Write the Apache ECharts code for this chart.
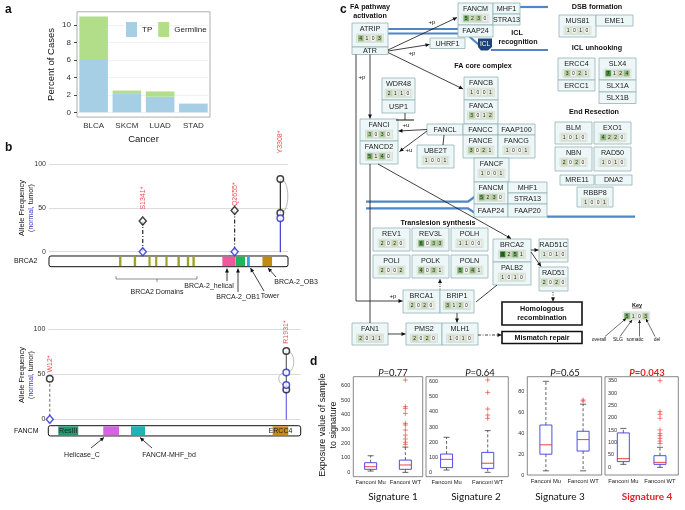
<!DOCTYPE html>
<html><head><meta charset="utf-8">
<script src="https://cdn.jsdelivr.net/npm/echarts@6/dist/echarts.min.js"></script>
<style>html,body{margin:0;padding:0;background:#fff}#c{width:685px;height:510px}</style>
</head><body><div id="c"></div>
<script>
// ================= DATA =================
const cancers = ['BLCA', 'SKCM', 'LUAD', 'STAD'];
const tpPercent = [6.0, 2.2, 1.8, 1.0];
const germlinePercent = [5.0, 0.3, 0.6, 0.0];
const percentTicks = [0, 2, 4, 6, 8, 10];

const brca2Length = 3418;
const brca2Labels = ['S1341*', 'Q2655*', 'Y3308*'];
const brca2LabelPos = [1341, 2655, 3308];
const brca2Tumor = [[1341, 35], [2655, 47], [3308, 83], [3308, 44]];
const brca2Normal = [[1341, 0], [2655, 0], [3308, 38]];
const brca2Domains = [[1002, 1036], [1212, 1246], [1422, 1453], [1518, 1549], [1665, 1696], [1837, 1871], [1971, 2005], [2051, 2085], [2479, 2667], [2670, 2803], [2831, 2872], [3052, 3190]];
const brca2DomainNames = ['BRCA2', 'BRCA2', 'BRCA2', 'BRCA2', 'BRCA2', 'BRCA2', 'BRCA2', 'BRCA2', 'BRCA-2_helical', 'BRCA-2_OB1', 'Tower', 'BRCA-2_OB3'];

const fancmLength = 2048;
const fancmLabels = ['W12*', 'R1931*'];
const fancmLabelPos = [12, 1931];
const fancmTumor = [[12, 45], [1931, 76], [1931, 33]];
const fancmNormal = [[12, 0], [1931, 52], [1931, 38]];
const fancmDomains = [[81, 243], [446, 574], [671, 785], [1821, 1947]];
const fancmDomainNames = ['ResIII', 'Helicase_C', 'FANCM-MHF_bd', 'ERCC4'];
const afTicks = [0, 50, 100];

// gene, overall, SLG, somatic, del
const geneCounts = [
  ['ATRIP', 4, 1, 0, 3], ['FANCM', 5, 2, 3, 0], ['WDR48', 2, 1, 1, 0], ['FANCB', 1, 0, 0, 1],
  ['FANCA', 3, 0, 1, 2], ['FANCI', 3, 0, 3, 0], ['FANCD2', 5, 1, 4, 0], ['FANCE', 3, 0, 2, 1],
  ['FANCG', 1, 0, 0, 1], ['UBE2T', 1, 0, 0, 1], ['FANCF', 1, 0, 0, 1], ['MUS81', 1, 0, 1, 0],
  ['ERCC4', 3, 0, 2, 1], ['SLX4', 7, 1, 2, 4], ['BLM', 1, 0, 1, 0], ['EXO1', 4, 2, 2, 0],
  ['NBN', 2, 0, 2, 0], ['RAD50', 1, 0, 1, 0], ['RBBP8', 1, 0, 0, 1], ['REV1', 2, 0, 2, 0],
  ['REV3L', 6, 0, 3, 3], ['POLH', 1, 1, 0, 0], ['POLI', 2, 0, 0, 2], ['POLK', 4, 0, 3, 1],
  ['POLN', 5, 0, 4, 1], ['BRCA2', 8, 2, 5, 1], ['PALB2', 1, 0, 1, 0], ['RAD51C', 1, 0, 1, 0],
  ['RAD51', 2, 0, 2, 0], ['BRCA1', 2, 0, 2, 0], ['BRIP1', 3, 1, 2, 0], ['FAN1', 2, 0, 1, 1],
  ['PMS2', 2, 0, 2, 0], ['MLH1', 1, 0, 1, 0]
];
const keyCounts = [5, 1, 0, 3];

const pValues = ['0.77', '0.64', '0.65', '0.043'];
const signatures = ['Signature 1', 'Signature 2', 'Signature 3', 'Signature 4'];
const groups = ['Fanconi Mu', 'Fanconi WT'];
// [lower whisker, Q1, median, Q3, upper whisker]
const sig1Mu = [9, 21, 39, 67, 115];
const sig1WT = [0, 21, 51, 85, 175];
const sig1WTOut = [194, 208, 231, 258, 293, 328, 339, 408, 443, 455, 639];
const sig2Mu = [15, 31, 86, 121, 232];
const sig2WT = [0, 26, 60, 132, 276];
const sig2WTOut = [357, 379, 419, 529, 611];
const sig3Mu = [4, 20, 29, 48, 90];
const sig3WT = [4, 23, 34, 42, 68];
const sig3WTOut = [71, 72];
const sig4Mu = [12, 23, 35, 139, 157];
const sig4WT = [0, 12, 20, 47, 81];
const sig4WTOut = [96, 106, 117, 128, 137, 151, 198, 214, 225, 350];

// ================= STYLE / LAYOUT =================
const FONT = "'Liberation Sans', Arial, Helvetica, sans-serif";
const G = [];
function txt(x, y, text, o) {
  o = o || {};
  const font = (o.italic ? 'italic ' : '') + (o.bold ? 'bold ' : '') + (o.size || 7) + 'px ' + (o.family || FONT);
  G.push({type: 'text', x: x, y: y, rotation: o.rot || 0, silent: true, z: o.z || 20,
    style: {text: text, font: font, fill: o.color || '#111', align: o.align || 'center', textAlign: o.align || 'center',
      verticalAlign: o.valign || 'middle', textVerticalAlign: o.valign || 'middle', rich: o.rich}});
}
function ln(x1, y1, x2, y2, o) {
  o = o || {};
  G.push({type: 'line', silent: true, z: o.z || 15, shape: {x1: x1, y1: y1, x2: x2, y2: y2},
    style: {stroke: o.color || '#111', lineWidth: o.w || 0.8, lineDash: o.dash || null}});
}
function head(x1, y1, x2, y2, o) {
  o = o || {};
  const a = Math.atan2(y2 - y1, x2 - x1), s = o.size || 4, hw = o.hw || 2;
  const bx = x2 - s * Math.cos(a), by = y2 - s * Math.sin(a);
  G.push({type: 'polygon', silent: true, z: o.z || 16,
    shape: {points: [[x2, y2], [bx + hw * Math.sin(a), by - hw * Math.cos(a)], [bx - hw * Math.sin(a), by + hw * Math.cos(a)]]},
    style: {fill: o.color || '#111'}});
}
function arrow(x1, y1, x2, y2, o) { ln(x1, y1, x2, y2, o); head(x1, y1, x2, y2, o); }
function poly(points, o) {
  o = o || {};
  G.push({type: 'polyline', silent: true, z: o.z || 4, shape: {points: points},
    style: {stroke: o.color || '#4f86c6', lineWidth: o.w || 2.2, fill: null, lineDash: o.dash || null}});
}

// panel letters
txt(5, 10, 'a', {bold: true, size: 12, align: 'left'});
txt(5, 148, 'b', {bold: true, size: 12, align: 'left'});
txt(340, 10, 'c', {bold: true, size: 12, align: 'left'});
txt(310, 362, 'd', {bold: true, size: 12, align: 'left'});

// ---------- panel b annotations ----------
const afLabelRich = {b: {fill: '#2b2bd0', color: '#2b2bd0', font: '7px ' + FONT}, k: {fill: '#111', color: '#111', font: '7px ' + FONT}};
txt(22, 208, 'Allele Frequency', {rot: Math.PI / 2, size: 7.5});
txt(31, 208, '{k|(}{b|normal}{k|, tumor)}', {rot: Math.PI / 2, size: 7, rich: afLabelRich});
txt(22, 375, 'Allele Frequency', {rot: Math.PI / 2, size: 7.5});
txt(31, 375, '{k|(}{b|normal}{k|, tumor)}', {rot: Math.PI / 2, size: 7, rich: afLabelRich});
txt(14, 261, 'BRCA2', {align: 'left', size: 7});
txt(14, 431, 'FANCM', {align: 'left', size: 7});
// BRCA2 domain bracket
ln(116, 279, 197, 279, {w: 0.6, color: '#444'}); ln(116, 276, 116, 279, {w: 0.6, color: '#444'});
ln(197, 276, 197, 279, {w: 0.6, color: '#444'}); ln(157, 279, 157, 282, {w: 0.6, color: '#444'});
txt(157, 292, 'BRCA2 Domains', {size: 7, color: '#222'});
txt(209, 286, 'BRCA-2_helical', {size: 7, color: '#222'});
arrow(227, 281, 227, 268.5, {w: 0.8});
txt(238, 297, 'BRCA-2_OB1', {size: 7, color: '#222'});
arrow(238, 292, 238, 268.5, {w: 0.8});
txt(270, 296, 'Tower', {size: 7, color: '#222'});
arrow(264, 291, 250.5, 268, {w: 0.8});
txt(296, 282, 'BRCA-2_OB3', {size: 7, color: '#222'});
arrow(276, 277, 268, 268, {w: 0.8});
// FANCM annotations
txt(82, 455, 'Helicase_C', {size: 7, color: '#222'});
arrow(91, 448, 104, 437.5, {w: 0.8});
txt(169, 455, 'FANCM-MHF_bd', {size: 7, color: '#222'});
arrow(152, 448, 140, 437.5, {w: 0.8});

// ---------- panel c : pathway diagram ----------
const boxLayout = {
  'ATRIP': [352, 23, 388, 47], 'ATR': [352, 47, 388, 54.5],
  'FANCM': [458, 3, 493, 25], 'MHF1': [493, 3, 520, 14], 'STRA13': [493, 14, 520, 25], 'FAAP24': [458, 25, 493, 37],
  'UHRF1': [430, 38, 465, 48.5],
  'WDR48': [382, 78, 415, 100], 'USP1': [382, 100, 415, 113],
  'FANCB': [464, 77, 498, 100], 'FANCA': [464, 100, 498, 124],
  'FANCL': [427, 124, 463, 135], 'FANCC': [463, 124, 498, 135], 'FAAP100': [498, 124, 535, 135],
  'FANCE': [463, 135, 498, 158], 'FANCG': [498, 135, 535, 158],
  'UBE2T': [417, 145, 454, 168], 'FANCF': [474, 158, 509, 182],
  'FANCI': [360, 119, 398, 141], 'FANCD2': [360, 141, 398, 164],
  'FANCM#2': [474, 182, 508, 204], 'FAAP24#2': [474, 204, 508, 217],
  'MHF1#2': [508, 182, 547, 193], 'STRA13#2': [508, 193, 547, 204], 'FAAP20': [508, 204, 547, 217],
  'MUS81': [559, 15, 596, 37], 'EME1': [596, 15, 633, 26],
  'ERCC4': [558, 58, 595, 80], 'ERCC1': [558, 80, 595, 91],
  'SLX4': [599, 58, 636, 80], 'SLX1A': [599, 80, 636, 92], 'SLX1B': [599, 92, 636, 103.5],
  'BLM': [555, 122, 592, 144], 'EXO1': [594, 122, 631, 144], 'NBN': [555, 147, 592, 171], 'RAD50': [594, 147, 631, 171],
  'MRE11': [560, 175, 594, 185], 'DNA2': [595, 175, 632, 185], 'RBBP8': [577, 187, 613, 207],
  'REV1': [373, 228, 410, 251], 'REV3L': [412, 228, 449, 251], 'POLH': [451, 228, 488, 251],
  'POLI': [373, 255, 410, 278], 'POLK': [412, 255, 449, 278], 'POLN': [451, 255, 488, 278],
  'BRCA2': [493, 239, 531, 262], 'PALB2': [493, 262, 531, 285],
  'RAD51C': [539, 239, 568, 262], 'RAD51': [539, 267, 568, 291],
  'BRCA1': [403, 290, 440, 313], 'BRIP1': [440, 290, 474, 313],
  'FAN1': [352, 323, 388, 345], 'PMS2': [406, 323, 442, 345], 'MLH1': [442, 323, 478, 345]
};
const cellColors = ['#f6f7f3', '#e5ebdb', '#cadcb6', '#afcd98', '#93bd7d', '#77ae63', '#5b9f4c', '#3f8f38', '#2a7f28'];
const countMap = {};
geneCounts.forEach(function (r) { countMap[r[0]] = r.slice(1); });
function cells(cx, cy, vals) {
  const cw = 6.2, ch = 6.2, x0 = cx - 2 * cw;
  G.push({type: 'rect', silent: true, z: 11, shape: {x: x0 - 1, y: cy - ch / 2 - 1, width: 4 * cw + 2, height: ch + 2}, style: {fill: '#fff', stroke: '#b9c6b4', lineWidth: 0.5}});
  vals.forEach(function (v, i) {
    G.push({type: 'rect', silent: true, z: 12, shape: {x: x0 + i * cw + 0.3, y: cy - ch / 2, width: cw - 0.6, height: ch},
      style: {fill: cellColors[Math.min(v, 8)], stroke: '#aab8a2', lineWidth: 0.4}});
    txt(x0 + i * cw + cw / 2, cy + 0.3, String(v), {size: 5, color: '#222', z: 13});
  });
}
Object.keys(boxLayout).forEach(function (k) {
  const b = boxLayout[k], name = k.split('#')[0];
  G.push({type: 'rect', silent: true, z: 10, shape: {x: b[0], y: b[1], width: b[2] - b[0], height: b[3] - b[1]},
    style: {fill: '#eef7f7', stroke: '#93b3b6', lineWidth: 0.8}});
  const cx = (b[0] + b[2]) / 2;
  if (countMap[name]) {
    txt(cx, b[1] + 6, name, {size: 7.2, color: '#1a1a1a', z: 13});
    cells(cx, b[1] + 15.3, countMap[name]);
  } else {
    txt(cx, (b[1] + b[3]) / 2 + 0.3, name, {size: 7.2, color: '#1a1a1a', z: 13});
  }
});
// outcome boxes
G.push({type: 'rect', silent: true, z: 10, shape: {x: 502, y: 302, width: 80, height: 23}, style: {fill: '#fff', stroke: '#111', lineWidth: 1.6}});
txt(542, 309.5, 'Homologous', {bold: true, size: 7.2, z: 13});
txt(542, 318.5, 'recombination', {bold: true, size: 7.2, z: 13});
G.push({type: 'rect', silent: true, z: 10, shape: {x: 502, y: 331.5, width: 80, height: 12}, style: {fill: '#fff', stroke: '#111', lineWidth: 1.6}});
txt(542, 337.8, 'Mismatch repair', {bold: true, size: 7.2, z: 13});
// section titles
txt(370, 7, 'FA pathway', {bold: true, size: 7.2});
txt(370, 16, 'activation', {bold: true, size: 7.2});
txt(517, 33, 'ICL', {bold: true, size: 7.2});
txt(518, 42, 'recognition', {bold: true, size: 7.2});
txt(483, 66, 'FA core complex', {bold: true, size: 7.2});
txt(597, 7, 'DSB formation', {bold: true, size: 7.2});
txt(597, 48, 'ICL unhooking', {bold: true, size: 7.2});
txt(594, 112, 'End Resection', {bold: true, size: 7.2});
txt(438, 223.5, 'Translesion synthesis', {bold: true, size: 7.2});
// DNA strands
poly([[388, 29], [460, 29]]);
poly([[388, 33.5], [466, 33.5], [479, 45]]);
poly([[491, 50], [548, 50]]);
poly([[520, 7], [548, 7]]);
poly([[366, 201.7], [468, 201.7], [475, 196.5]]);
poly([[366, 208.3], [468, 208.3], [475, 213]]);
poly([[547, 216.7], [635, 216.7]]);
G.push({type: 'polygon', silent: true, z: 14, shape: {points: [[478, 38.5], [492, 38.5], [492, 47], [488, 50.5], [481, 50.5], [478, 47]]}, style: {fill: '#1f4278'}});
txt(485, 44.5, 'ICL', {size: 6.5, color: '#fff', z: 15});
// arrows and connectors
arrow(388, 50, 457, 17.5);
txt(432, 22, '+p', {size: 6});
arrow(388, 51, 429.5, 44.5);
txt(412, 53, '+p', {size: 6});
arrow(388, 52.5, 463, 89);
ln(356, 54.5, 356, 301); arrow(356, 301, 402.5, 301);
txt(393, 296, '+p', {size: 6});
arrow(370, 54.5, 370, 118.5);
txt(362, 77, '+p', {size: 6});
ln(405, 113, 405, 120); ln(396, 120, 414, 120, {w: 1});
txt(406, 125.5, '+u', {size: 6});
arrow(427, 129.5, 398.5, 131);
arrow(427, 131, 399.5, 151.5);
txt(409, 150, '+u', {size: 6});
ln(444, 135, 443, 145);
arrow(378, 164, 511, 238.5);
ln(370, 164, 370, 323);
arrow(531, 250, 538.5, 250);
arrow(531, 252, 541, 266.5);
arrow(553, 292, 553, 301.5, {dash: [1, 1.5]});
ln(476, 302, 497, 285);
arrow(440, 289.5, 440, 279, {dash: [1, 1.5]});
arrow(457, 313, 457, 322.5);
arrow(388, 334, 405.5, 334);
arrow(478, 335, 501.5, 335, {dash: [3, 1.5, 1, 1.5]});
// key
txt(637, 305, 'Key', {bold: true, size: 5.5});
ln(632, 308, 642, 308, {w: 0.5});
cells(636.3, 316, keyCounts);
txt(599, 340, 'overall', {size: 5});
txt(618, 340, 'SLG', {size: 5});
txt(635, 340, 'somatic', {size: 5});
txt(657, 340, 'del', {size: 5});
arrow(605, 336.5, 626, 318.5, {size: 3, hw: 1.5, w: 0.6});
arrow(620, 336.5, 632, 320, {size: 3, hw: 1.5, w: 0.6});
arrow(639.5, 336.5, 639.5, 320, {size: 3, hw: 1.5, w: 0.6});
arrow(655, 336.5, 646, 319, {size: 3, hw: 1.5, w: 0.6});

// ---------- panel d texts ----------
const pX = [393, 480, 565, 647];
const sigX = [393, 476, 560, 647];
pValues.forEach(function (p, i) {
  const red = i === 3;
  txt(pX[i], 373, '{i|P}{n|=' + p + '}', {size: 9.5, rich: {
    i: {font: 'italic ' + (red ? 'bold ' : '') + '9.5px Lato, ' + FONT, fill: red ? '#e8211c' : '#111', color: red ? '#e8211c' : '#111'},
    n: {font: (red ? 'bold ' : '') + '9.5px Lato, ' + FONT, fill: red ? '#e8211c' : '#111', color: red ? '#e8211c' : '#111'}}});
  txt(sigX[i], 497, signatures[i], {size: 10, family: 'Lato, ' + FONT, color: red ? '#e8211c' : '#111', bold: red});
});
txt(323, 425, 'Exposure value of sample', {rot: Math.PI / 2, size: 9});
txt(334, 425, 'to signature', {rot: Math.PI / 2, size: 9});

// ================= AXES / SERIES =================
const grids = [
  {left: 77, top: 11.8, width: 133, height: 105.3, show: true, borderColor: '#9b9b9b', borderWidth: 0.8},
  {left: 49, top: 164, width: 239, height: 87.7},
  {left: 48.3, top: 329.3, width: 252.4, height: 90},
  {left: 353.3, top: 376.7, width: 69.4, height: 100, show: true, borderColor: '#555', borderWidth: 0.7},
  {left: 426, top: 376.7, width: 82.3, height: 100, show: true, borderColor: '#555', borderWidth: 0.7},
  {left: 527.3, top: 376.7, width: 74.4, height: 98.3, show: true, borderColor: '#555', borderWidth: 0.7},
  {left: 605, top: 376.7, width: 73.3, height: 98.3, show: true, borderColor: '#555', borderWidth: 0.7}
];
const xAxes = [
  {type: 'category', gridIndex: 0, data: cancers, axisLine: {show: false}, axisTick: {length: 3, alignWithLabel: true, lineStyle: {color: '#444'}},
    axisLabel: {fontSize: 8, color: '#333', margin: 5, fontFamily: FONT}, name: 'Cancer', nameLocation: 'middle', nameGap: 17,
    nameTextStyle: {fontSize: 9.5, color: '#111', fontFamily: FONT}},
  {type: 'value', gridIndex: 1, min: 0, max: brca2Length, show: false},
  {type: 'value', gridIndex: 2, min: 0, max: fancmLength, show: false}
];
const yAxes = [
  {type: 'value', gridIndex: 0, min: -0.55, max: 11.55, splitNumber: 5, axisLine: {show: false},
    axisTick: {show: true, length: 3, lineStyle: {color: '#444'}, customValues: percentTicks},
    axisLabel: {fontSize: 8, color: '#333', margin: 6, fontFamily: FONT, customValues: percentTicks,
      formatter: function (v) { return percentTicks.indexOf(v) >= 0 ? String(v) : ''; }},
    splitLine: {lineStyle: {color: '#ebebeb', width: 0.7}},
    name: 'Percent of Cases', nameLocation: 'middle', nameGap: 21, nameTextStyle: {fontSize: 9.5, color: '#111', fontFamily: FONT}},
  {type: 'value', gridIndex: 1, min: 0, max: 100, interval: 50, axisLine: {show: false}, axisTick: {show: false},
    axisLabel: {fontSize: 7, color: '#333', margin: 3, fontFamily: FONT}, splitLine: {lineStyle: {color: '#d8d8d8', width: 0.9}}},
  {type: 'value', gridIndex: 2, min: 0, max: 100, interval: 50, axisLine: {show: false}, axisTick: {show: false},
    axisLabel: {fontSize: 7, color: '#333', margin: 3, fontFamily: FONT}, splitLine: {lineStyle: {color: '#d8d8d8', width: 0.9}}}
];
const boxRanges = [[-30, 662, 5, 100, false], [-29, 633, 5, 100, true], [0, 94.4, 5, 20, false], [-31, 366, 8, 50, true]];
boxRanges.forEach(function (r, i) {
  const g = 3 + i;
  xAxes.push({type: 'category', gridIndex: g, data: groups, axisLine: {show: false},
    axisTick: {inside: true, alignWithLabel: true, length: 2, lineStyle: {color: '#333', width: 0.6}},
    axisLabel: {fontSize: 5.8, color: '#222', margin: 3, interval: 0, fontFamily: FONT}});
  yAxes.push({type: 'value', gridIndex: g, min: r[0], max: r[1], splitNumber: r[2], axisLine: {show: false},
    axisTick: {inside: true, length: 2, lineStyle: {color: '#333', width: 0.6}}, splitLine: {show: false},
    axisLabel: {fontSize: 5.5, color: '#333', margin: r[4] ? 3 : 3, inside: r[4], fontFamily: FONT,
      formatter: function (v) { return (v >= 0 && Math.abs(v / r[3] - Math.round(v / r[3])) < 1e-6) ? String(v) : ''; }}});
});

const series = [];
// panel a
series.push({type: 'bar', name: 'TP', stack: 'a', xAxisIndex: 0, yAxisIndex: 0, data: tpPercent, barCategoryGap: '14%', itemStyle: {color: '#a6cee4'}});
series.push({type: 'bar', name: 'Germline', stack: 'a', xAxisIndex: 0, yAxisIndex: 0, data: germlinePercent, barCategoryGap: '14%', itemStyle: {color: '#b2de8a'}});

const domainColors = {'BRCA2': '#9ea126', 'BRCA-2_helical': '#f0589c', 'BRCA-2_OB1': '#20b45c', 'Tower': '#2ba6ea', 'BRCA-2_OB3': '#c18b12',
  'ResIII': '#1f9b73', 'Helicase_C': '#d563e2', 'FANCM-MHF_bd': '#1db4b6', 'ERCC4': '#c98a10'};

function protein(axisIdx, length, yTop, yBot, domains, names, labelDomains) {
  series.push({type: 'custom', xAxisIndex: axisIdx, yAxisIndex: axisIdx, silent: true, z: 3, data: [[0, length]],
    renderItem: function (p, api) {
      const a = api.coord([0, yTop]), b = api.coord([length, yBot]);
      return {type: 'rect', shape: {x: a[0], y: a[1], width: b[0] - a[0], height: b[1] - a[1], r: 2}, style: {fill: '#fff', stroke: '#111', lineWidth: 1}};
    }});
  series.push({type: 'custom', xAxisIndex: axisIdx, yAxisIndex: axisIdx, silent: true, z: 4,
    data: domains.map(function (d, i) { return [d[0], d[1], i]; }),
    renderItem: function (p, api) {
      const i = api.value(2), a = api.coord([api.value(0), yTop]), b = api.coord([api.value(1), yBot]);
      const children = [{type: 'rect', shape: {x: a[0], y: a[1] + 0.6, width: b[0] - a[0], height: b[1] - a[1] - 1.2}, style: {fill: domainColors[names[i]]}}];
      if (labelDomains.indexOf(names[i]) >= 0) {
        children.push({type: 'text', x: (a[0] + b[0]) / 2 + (names[i] === 'ResIII' ? 0 : 0), y: (a[1] + b[1]) / 2,
          style: {text: names[i], font: '7px ' + FONT, fill: '#222', align: 'center', verticalAlign: 'middle', textAlign: 'center', textVerticalAlign: 'middle'}});
      }
      return {type: 'group', children: children};
    }});
}
protein(1, brca2Length, -4.9, -17.1, brca2Domains, brca2DomainNames, []);
protein(2, fancmLength, -7.1, -18.5, fancmDomains, fancmDomainNames, ['ResIII', 'ERCC4']);

function stem(axisIdx, a, b, color, dash, z) {
  series.push({type: 'line', xAxisIndex: axisIdx, yAxisIndex: axisIdx, data: [a, b], symbol: 'none', silent: true, z: z || 5,
    lineStyle: {color: color, width: 1.1, type: dash || 'solid'}});
}
// BRCA2 stems
stem(1, brca2Tumor[0], brca2Normal[0], '#111', [4, 2, 1, 2]);
stem(1, brca2Tumor[1], brca2Normal[1], '#111', [4, 2, 1, 2]);
stem(1, brca2Tumor[2], brca2Tumor[3], '#111', null);
stem(1, brca2Normal[2], [brca2Normal[2][0], -4.9], '#2b2bd0', null);
// FANCM stems
stem(2, fancmTumor[0], fancmNormal[0], '#777', [3, 2]);
stem(2, fancmTumor[1], fancmTumor[2], '#555', null);
stem(2, fancmTumor[2], [fancmTumor[2][0], -7.1], '#5a5ae0', null);

function points(axisIdx, pts, shapes, color) {
  series.push({type: 'scatter', xAxisIndex: axisIdx, yAxisIndex: axisIdx, silent: true, z: 8,
    data: pts.map(function (p, i) {
      return {value: p, symbol: shapes[i], symbolSize: shapes[i] === 'diamond' ? [7, 8] : 6.5,
        itemStyle: {color: '#fff', borderColor: color, borderWidth: 1.5}};
    })});
}
points(1, brca2Tumor, ['diamond', 'diamond', 'circle', 'circle'], '#111');
points(1, brca2Normal, ['diamond', 'diamond', 'circle'], '#2b2bd0');
points(2, fancmTumor, ['circle', 'circle', 'circle'], '#111');
points(2, fancmNormal, ['diamond', 'circle', 'circle'], '#2b2bd0');

function arcs(axisIdx, list) {
  series.push({type: 'custom', xAxisIndex: axisIdx, yAxisIndex: axisIdx, silent: true, z: 6, data: list,
    renderItem: function (p, api) {
      const a = api.coord([api.value(0), api.value(1)]), b = api.coord([api.value(0), api.value(2)]), s = api.value(3) * 10;
      return {type: 'bezierCurve', shape: {x1: a[0], y1: a[1], x2: b[0], y2: b[1], cpx1: a[0] + s, cpy1: a[1], cpx2: b[0] + s, cpy2: b[1]},
        style: {stroke: '#a8a8a8', lineWidth: 0.8, fill: null}};
    }});
}
arcs(1, [[brca2Tumor[2][0], brca2Tumor[2][1], brca2Tumor[3][1], 1]]);
arcs(2, [[fancmTumor[1][0], fancmTumor[1][1], fancmNormal[1][1], 1], [fancmTumor[1][0], fancmNormal[1][1], fancmNormal[2][1], -1]]);

// mutation labels (anchor = bottom of rotated text, in axis units)
function mutLabels(axisIdx, pos, labels, anchors) {
  series.push({type: 'custom', xAxisIndex: axisIdx, yAxisIndex: axisIdx, silent: true, z: 9,
    data: pos.map(function (x, i) { return [x, anchors[i], i]; }),
    renderItem: function (p, api) {
      const c = api.coord([api.value(0), api.value(1)]);
      return {type: 'text', x: c[0], y: c[1], rotation: Math.PI / 2,
        style: {text: labels[api.value(2)], font: '7px ' + FONT, fill: '#ef4f4f', align: 'left', verticalAlign: 'middle', textAlign: 'left', textVerticalAlign: 'middle'}};
    }});
}
mutLabels(1, brca2LabelPos, brca2Labels, [48, 52, 112]);
mutLabels(2, fancmLabelPos, fancmLabels, [52, 84]);

// boxplots
const boxSets = [[sig1Mu, sig1WT, sig1WTOut], [sig2Mu, sig2WT, sig2WTOut], [sig3Mu, sig3WT, sig3WTOut], [sig4Mu, sig4WT, sig4WTOut]];
boxSets.forEach(function (s, i) {
  const g = 3 + i;
  series.push({type: 'custom', xAxisIndex: g, yAxisIndex: g, silent: true, z: 5,
    encode: {x: 0, y: [1, 2, 3, 4, 5]},
    data: [[0].concat(s[0]), [1].concat(s[1])],
    renderItem: function (p, api) {
      const x = api.value(0);
      const pm = api.coord([x, api.value(1)]), p1 = api.coord([x, api.value(2)]), pd = api.coord([x, api.value(3)]),
        p3 = api.coord([x, api.value(4)]), pM = api.coord([x, api.value(5)]);
      const cx = pm[0], hw = 6;
      const blk = {stroke: '#222', lineWidth: 0.7};
      return {type: 'group', children: [
        {type: 'line', shape: {x1: cx, y1: p3[1], x2: cx, y2: pM[1]}, style: {stroke: '#222', lineWidth: 0.7, lineDash: [3, 2]}},
        {type: 'line', shape: {x1: cx, y1: p1[1], x2: cx, y2: pm[1]}, style: {stroke: '#222', lineWidth: 0.7, lineDash: [3, 2]}},
        {type: 'line', shape: {x1: cx - 3, y1: pM[1], x2: cx + 3, y2: pM[1]}, style: blk},
        {type: 'line', shape: {x1: cx - 3, y1: pm[1], x2: cx + 3, y2: pm[1]}, style: blk},
        {type: 'rect', shape: {x: cx - hw, y: p3[1], width: 2 * hw, height: p1[1] - p3[1]}, style: {fill: 'none', stroke: '#3a3ae6', lineWidth: 0.9}},
        {type: 'line', shape: {x1: cx - hw, y1: pd[1], x2: cx + hw, y2: pd[1]}, style: {stroke: '#e53030', lineWidth: 0.9}}
      ]};
    }});
  series.push({type: 'scatter', xAxisIndex: g, yAxisIndex: g, silent: true, z: 6,
    data: s[2].map(function (v) { return [1, v]; }),
    symbol: 'path://M5,0L5,10M0,5L10,5', symbolSize: 5,
    itemStyle: {color: 'none', borderColor: '#ee3b3b', borderWidth: 0.8}});
});

const chart = echarts.init(document.getElementById('c'), null, {renderer: 'canvas', width: 685, height: 510});
chart.setOption({
  animation: false,
  backgroundColor: '#fff',
  textStyle: {fontFamily: FONT},
  grid: grids,
  xAxis: xAxes,
  yAxis: yAxes,
  legend: {data: ['TP', 'Germline'], left: 121, top: 17, icon: 'rect', itemWidth: 11, itemHeight: 15, itemGap: 6,
    textStyle: {fontSize: 8, color: '#222', fontFamily: FONT}, selectedMode: false},
  series: series,
  graphic: {elements: G}
});
</script></body></html>
